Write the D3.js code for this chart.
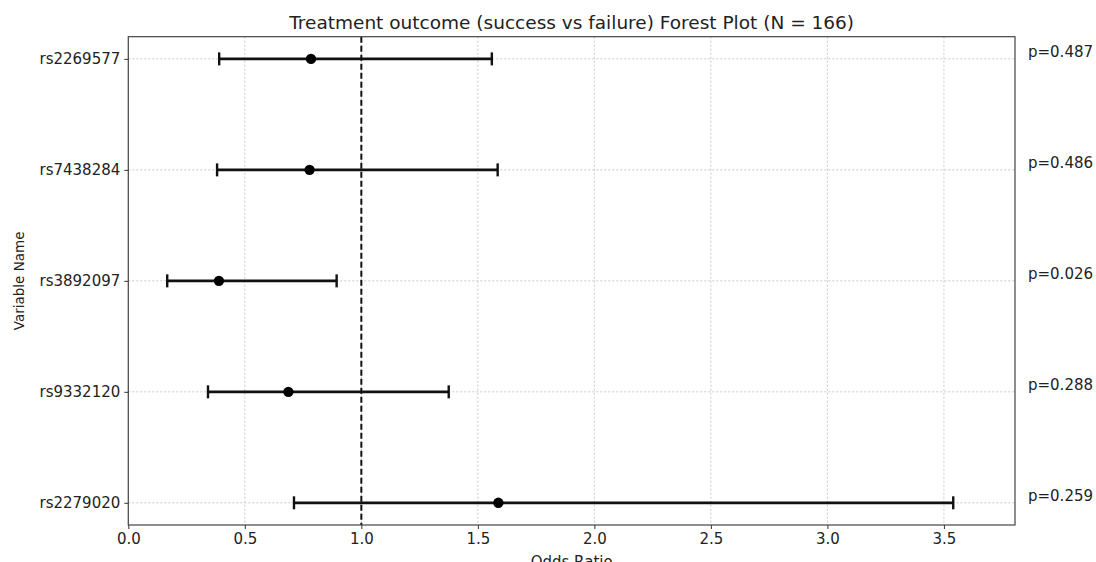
<!DOCTYPE html>
<html>
<head>
<meta charset="utf-8">
<script src="https://cdn.jsdelivr.net/npm/d3@7"></script>
<style>
  body { margin: 0; background: #fff; }
  text { font-family: "DejaVu Sans", sans-serif; fill: #222; }
</style>
</head>
<body>
<svg id="mainsvg" width="1096" height="562"></svg>
<script>
// data
const variables = ['rs2269577', 'rs7438284', 'rs3892097', 'rs9332120', 'rs2279020'];
const oddsRatio = [0.784, 0.778, 0.389, 0.687, 1.588];
const ciLower   = [0.390, 0.381, 0.167, 0.342, 0.711];
const ciUpper   = [1.560, 1.585, 0.894, 1.375, 3.540];
const pValues   = ['0.487', '0.486', '0.026', '0.288', '0.259'];
const xTicks    = [0.0, 0.5, 1.0, 1.5, 2.0, 2.5, 3.0, 3.5];

const svg = d3.select('#mainsvg');
const margin = {top: 36.7, right: 81, bottom: 37, left: 128.3};
const width = +svg.attr('width');
const height = +svg.attr('height');
const innerWidth = width - margin.left - margin.right;
const innerHeight = height - margin.top - margin.bottom;

const rows = variables.map((v, i) => ({
    name: v, or: oddsRatio[i], lo: ciLower[i], hi: ciUpper[i], p: pValues[i], idx: i
}));

const g = svg.append('g').attr('transform', `translate(${margin.left}, ${margin.top})`);

const xScale = d3.scaleLinear().domain([0, 3.805]).range([0, innerWidth]);
const yScale = d3.scaleLinear().domain([-0.2, variables.length - 1 + 0.2]).range([0, innerHeight]);

// grid
g.append('g').selectAll('line').data(xTicks).join('line')
    .attr('x1', d => xScale(d)).attr('x2', d => xScale(d))
    .attr('y1', 0).attr('y2', innerHeight)
    .attr('stroke', '#c8c8c8').attr('stroke-width', 1).attr('stroke-dasharray', '2,2');
g.append('g').selectAll('line').data(rows).join('line')
    .attr('x1', 0).attr('x2', innerWidth)
    .attr('y1', d => yScale(d.idx)).attr('y2', d => yScale(d.idx))
    .attr('stroke', '#c8c8c8').attr('stroke-width', 1).attr('stroke-dasharray', '2,2');

// reference line at OR = 1
g.append('line')
    .attr('x1', xScale(1)).attr('x2', xScale(1))
    .attr('y1', 0).attr('y2', innerHeight)
    .attr('stroke', '#111').attr('stroke-width', 2).attr('stroke-dasharray', '6,3');

// error bars
const bars = g.append('g').selectAll('g').data(rows).join('g');
bars.append('line')
    .attr('x1', d => xScale(d.lo)).attr('x2', d => xScale(d.hi))
    .attr('y1', d => yScale(d.idx)).attr('y2', d => yScale(d.idx))
    .attr('stroke', '#111').attr('stroke-width', 2.8);
bars.append('line')
    .attr('x1', d => xScale(d.lo)).attr('x2', d => xScale(d.lo))
    .attr('y1', d => yScale(d.idx) - 6.5).attr('y2', d => yScale(d.idx) + 6.5)
    .attr('stroke', '#111').attr('stroke-width', 2.4);
bars.append('line')
    .attr('x1', d => xScale(d.hi)).attr('x2', d => xScale(d.hi))
    .attr('y1', d => yScale(d.idx) - 6.5).attr('y2', d => yScale(d.idx) + 6.5)
    .attr('stroke', '#111').attr('stroke-width', 2.4);
bars.append('circle')
    .attr('cx', d => xScale(d.or)).attr('cy', d => yScale(d.idx))
    .attr('r', 5.2).attr('fill', '#000');

// p-values on the right
g.append('g').selectAll('text').data(rows).join('text')
    .attr('x', innerWidth + 13)
    .attr('y', d => yScale(d.idx) - 2)
    .style('font-size', '15px')
    .text(d => 'p=' + d.p);

// axes
const xAxis = g.append('g')
    .attr('transform', `translate(0, ${innerHeight})`)
    .call(d3.axisBottom(xScale).tickValues(xTicks).tickFormat(d3.format('.1f')).tickSize(4).tickPadding(4));
const yAxis = g.append('g')
    .call(d3.axisLeft(yScale).tickValues(rows.map(d => d.idx)).tickFormat(i => variables[i]).tickSize(4).tickPadding(4));
[xAxis, yAxis].forEach(a => {
    a.select('.domain').remove();
    a.selectAll('line').attr('stroke', '#333');
    a.selectAll('text').style('font-size', '15px').style('font-family', '"DejaVu Sans", sans-serif').attr('fill', '#222');
});

// frame
g.append('rect')
    .attr('width', innerWidth).attr('height', innerHeight)
    .attr('fill', 'none').attr('stroke', '#444').attr('stroke-width', 1.2);

// labels
svg.append('text')
    .attr('x', margin.left + innerWidth / 2).attr('y', 29)
    .attr('text-anchor', 'middle')
    .style('font-size', '18.5px')
    .text('Treatment outcome (success vs failure) Forest Plot (N = 166)');

svg.append('text')
    .attr('x', margin.left + innerWidth / 2).attr('y', 567)
    .attr('text-anchor', 'middle')
    .style('font-size', '15px')
    .text('Odds Ratio');

svg.append('text')
    .attr('transform', 'rotate(-90)')
    .attr('x', -(margin.top + innerHeight / 2)).attr('y', 24)
    .attr('text-anchor', 'middle')
    .style('font-size', '13.5px')
    .text('Variable Name');
</script>
</body>
</html>
